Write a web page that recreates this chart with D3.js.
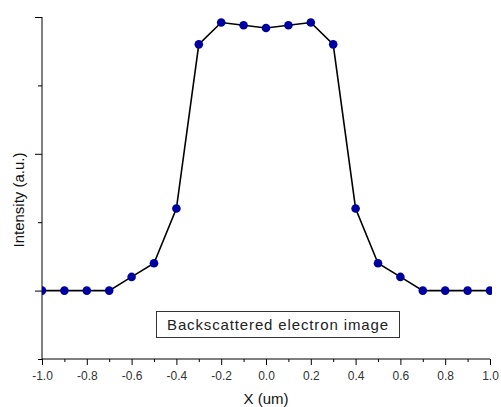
<!DOCTYPE html>
<html><head><meta charset="utf-8">
<script src="https://cdn.jsdelivr.net/npm/d3@7"></script>
<style>body{margin:0;background:#fff}svg{display:block}</style>
</head><body>
<script>
const xValues = [-1.0,-0.9,-0.8,-0.7,-0.6,-0.5,-0.4,-0.3,-0.2,-0.1,0.0,0.1,0.2,0.3,0.4,0.5,0.6,0.7,0.8,0.9,1.0];
const intensity = [0,0,0,0,0.10,0.20,0.60,1.80,1.96,1.94,1.92,1.94,1.96,1.80,0.60,0.20,0.10,0,0,0,0];
const xTickLabels = ["-1.0","-0.8","-0.6","-0.4","-0.2","0.0","0.2","0.4","0.6","0.8","1.0"];
const legendText = "Backscattered electron image";
const xTitle = "X (um)";
const yTitle = "Intensity (a.u.)";

const W = 501, H = 407;
const svg = d3.select("body").append("svg").attr("width", W).attr("height", H);
const x = d3.scaleLinear().domain([-1, 1]).range([42, 490]);
const y = d3.scaleLinear().domain([-0.5, 2]).range([359, 17]);
const font = "Arial, 'Liberation Sans', sans-serif";

svg.append("clipPath").attr("id","c").append("rect")
  .attr("x", 42).attr("y", 0).attr("width", 450).attr("height", 359);

// X axis
const xMajor = d3.range(-1, 1.0001, 0.2).map(v => +v.toFixed(1));
const xMinor = d3.range(-0.9, 1, 0.2).map(v => +v.toFixed(1));
const gx = svg.append("g").attr("transform", `translate(0,${y(-0.5)})`);
gx.call(d3.axisBottom(x).tickValues(xMajor).tickSize(6).tickPadding(6)
  .tickFormat((d,i) => xTickLabels[i]));
gx.append("g").call(d3.axisBottom(x).tickValues(xMinor).tickSize(3).tickFormat(""))
  .select(".domain").remove();
gx.select(".domain").attr("d", `M${x(-1)},0H${x(1)}`);
gx.selectAll("text").attr("font-family", font).attr("font-size", 12).attr("fill", "#333");
gx.selectAll("line,path").attr("stroke", "#000");

// Y axis
const gy = svg.append("g").attr("transform", `translate(${x(-1)},0)`);
gy.call(d3.axisLeft(y).tickValues([0,1,2]).tickSize(7).tickFormat(""));
gy.append("g").call(d3.axisLeft(y).tickValues([-0.5,0.5,1.5]).tickSize(4).tickFormat(""))
  .select(".domain").remove();
gy.select(".domain").attr("d", `M0,${y(-0.5)}V${y(2)}`);
gy.selectAll("line,path").attr("stroke", "#000");

// line + points
const data = xValues.map((v,i) => ({x: v, y: intensity[i]}));
const plot = svg.append("g").attr("clip-path", "url(#c)");
plot.append("path").datum(data)
  .attr("fill","none").attr("stroke","#000").attr("stroke-width",1.6)
  .attr("d", d3.line().x(d => x(d.x)).y(d => y(d.y)));
plot.selectAll("circle").data(data).join("circle")
  .attr("cx", d => x(d.x)).attr("cy", d => y(d.y)).attr("r", 4.3)
  .attr("fill", "#0000a0");

// legend box
svg.append("rect").attr("x", 156.5).attr("y", 311.5).attr("width", 243).attr("height", 26)
  .attr("fill","#fff").attr("stroke","#333").attr("stroke-width",1);
svg.append("text").attr("x", 167).attr("y", 329.5)
  .attr("font-family", font).attr("font-size", 15).attr("fill","#222")
  .attr("textLength", 221).attr("lengthAdjust","spacing")
  .text(legendText);

// axis titles
svg.append("text").attr("x", x(0)).attr("y", 403.5)
  .attr("text-anchor","middle").attr("font-family", font).attr("font-size", 15).attr("fill","#111")
  .text(xTitle);
svg.append("text").attr("transform", "translate(24,200) rotate(-90)")
  .attr("text-anchor","middle").attr("font-family", font).attr("font-size", 15).attr("fill","#111")
  .text(yTitle);
</script>
</body></html>
